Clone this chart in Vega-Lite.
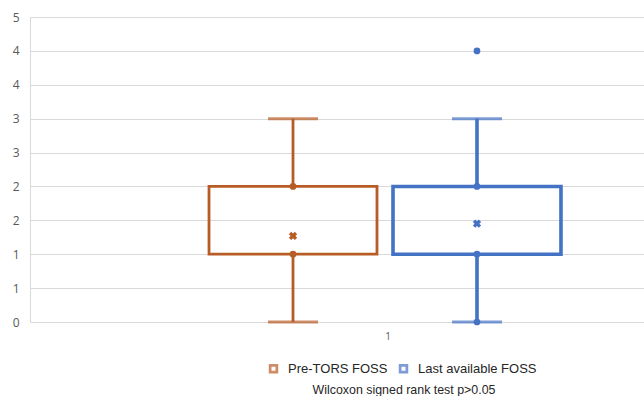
{
  "$schema": "https://vega.github.io/schema/vega-lite/v6.json",
  "width": 614,
  "height": 305,
  "autosize": "none",
  "padding": {"left": 30, "top": 17, "right": 0, "bottom": 74},
  "background": "white",
  "config": {
    "view": {"stroke": null},
    "font": "Liberation Sans",
    "axisY": {
      "ticks": false,
      "domain": true,
      "domainColor": "#d9d9d9",
      "domainWidth": 1,
      "gridColor": "#d9d9d9",
      "gridWidth": 1,
      "labelPadding": 11,
      "labelFontSize": 12,
      "labelColor": "#595959",
      "labelFont": "Open Sans"
    }
  },
  "title": {
    "text": "Wilcoxon signed rank test p>0.05",
    "orient": "bottom",
    "anchor": "middle",
    "dx": 67,
    "offset": 8,
    "fontSize": 12.4,
    "fontWeight": "normal",
    "color": "#262626",
    "font": "Liberation Sans"
  },
  "datasets": {
    "boxes": [
      {"cat": "1", "series": "Pre-TORS FOSS", "lo": 0, "q1": 1, "q3": 2, "hi": 3, "mean": 1.27},
      {"cat": "1", "series": "Last available FOSS", "lo": 0, "q1": 1, "q3": 2, "hi": 3, "mean": 1.45}
    ],
    "points": [
      {"cat": "1", "series": "Pre-TORS FOSS", "value": 1},
      {"cat": "1", "series": "Pre-TORS FOSS", "value": 2},
      {"cat": "1", "series": "Last available FOSS", "value": 0},
      {"cat": "1", "series": "Last available FOSS", "value": 1},
      {"cat": "1", "series": "Last available FOSS", "value": 2},
      {"cat": "1", "series": "Last available FOSS", "value": 4}
    ]
  },
  "encoding": {
    "x": {
      "field": "cat",
      "type": "nominal",
      "scale": {"range": [0, 710], "paddingInner": 0, "paddingOuter": 0},
      "axis": {
        "title": null,
        "labelAngle": 0,
        "ticks": false,
        "domain": false,
        "grid": false,
        "labelPadding": 9,
        "labelFontSize": 10,
        "labelColor": "#595959",
        "labelFont": "Open Sans",
        "labelOffset": 3
      }
    },
    "xOffset": {
      "field": "series",
      "type": "nominal",
      "scale": {"domain": ["Pre-TORS FOSS", "Last available FOSS"], "paddingInner": 0.087, "paddingOuter": 0.973}
    },
    "color": {
      "field": "series",
      "type": "nominal",
      "scale": {"domain": ["Pre-TORS FOSS", "Last available FOSS"], "range": ["#B85C26", "#4472C4"]},
      "legend": {
        "title": null,
        "orient": "none",
        "direction": "horizontal",
        "legendX": 237,
        "legendY": 345,
        "symbolType": "M-1,-1H1V1H-1Z M-0.42,-0.42V0.42H0.42V-0.42Z",
        "symbolSize": 90,
        "symbolStrokeWidth": 0,
        "labelFontSize": 13,
        "labelColor": "#262626",
        "labelFont": "Liberation Sans",
        "columnPadding": 9,
        "labelOffset": 8
      }
    }
  },
  "layer": [
    {
      "data": {"name": "boxes"},
      "mark": {"type": "rule"},
      "encoding": {
        "y": {
          "field": "lo",
          "type": "quantitative",
          "scale": {"domain": [0, 4.5], "nice": false, "zero": false},
          "axis": {"title": null, "values": [0, 0.5, 1, 1.5, 2, 2.5, 3, 3.5, 4, 4.5], "format": ".0f"}
        },
        "y2": {"field": "q1"},
        "strokeWidth": {"condition": {"test": "datum.series === 'Last available FOSS'", "value": 3.6}, "value": 2.8}
      }
    },
    {
      "data": {"name": "boxes"},
      "mark": {"type": "rule"},
      "encoding": {
        "y": {
          "field": "q3",
          "type": "quantitative",
          "axis": {"title": null, "values": [0, 0.5, 1, 1.5, 2, 2.5, 3, 3.5, 4, 4.5], "format": ".0f"}
        },
        "y2": {"field": "hi"},
        "strokeWidth": {"condition": {"test": "datum.series === 'Last available FOSS'", "value": 3.6}, "value": 2.8}
      }
    },
    {
      "data": {"name": "boxes"},
      "mark": {"type": "tick", "orient": "horizontal", "size": 50, "thickness": 3},
      "encoding": {
        "y": {
          "field": "lo",
          "type": "quantitative",
          "axis": {"title": null, "values": [0, 0.5, 1, 1.5, 2, 2.5, 3, 3.5, 4, 4.5], "format": ".0f"}
        }
      }
    },
    {
      "data": {"name": "boxes"},
      "mark": {"type": "tick", "orient": "horizontal", "size": 50, "thickness": 3},
      "encoding": {
        "y": {
          "field": "hi",
          "type": "quantitative",
          "axis": {"title": null, "values": [0, 0.5, 1, 1.5, 2, 2.5, 3, 3.5, 4, 4.5], "format": ".0f"}
        }
      }
    },
    {
      "data": {"name": "boxes"},
      "mark": {"type": "bar", "filled": false},
      "encoding": {
        "y": {
          "field": "q1",
          "type": "quantitative",
          "axis": {"title": null, "values": [0, 0.5, 1, 1.5, 2, 2.5, 3, 3.5, 4, 4.5], "format": ".0f"}
        },
        "y2": {"field": "q3"},
        "strokeWidth": {"condition": {"test": "datum.series === 'Last available FOSS'", "value": 3.6}, "value": 2.8}
      }
    },
    {
      "data": {"name": "points"},
      "mark": {"type": "point", "shape": "circle", "filled": true, "opacity": 1, "size": 45},
      "encoding": {
        "y": {
          "field": "value",
          "type": "quantitative",
          "axis": {"title": null, "values": [0, 0.5, 1, 1.5, 2, 2.5, 3, 3.5, 4, 4.5], "format": ".0f"}
        }
      }
    },
    {
      "data": {"name": "boxes"},
      "mark": {"type": "point", "shape": "cross", "angle": 45, "filled": true, "opacity": 1, "size": 70},
      "encoding": {
        "y": {
          "field": "mean",
          "type": "quantitative",
          "axis": {"title": null, "values": [0, 0.5, 1, 1.5, 2, 2.5, 3, 3.5, 4, 4.5], "format": ".0f"}
        }
      }
    }
  ]
}
